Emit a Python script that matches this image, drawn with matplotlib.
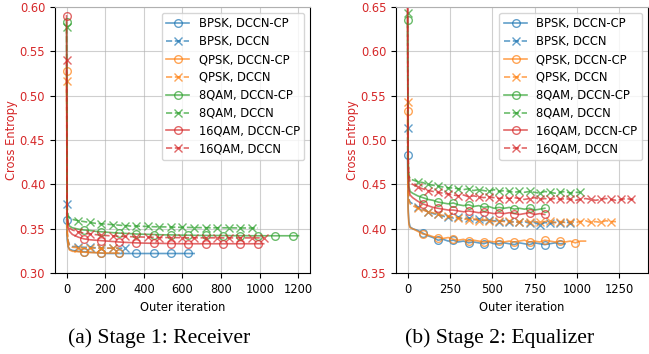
import matplotlib.pyplot as plt

plt.rcParams['font.family'] = ['DejaVu Sans']
plt.rcParams['font.size'] = 8.3

# ── Data ─────────────────────────────────────────
# first four samples at iterations 0, 3, 8, 15, then one sample every 30 iterations
early_iters = [0, 3, 8, 15]
step = 30

labels = ['BPSK, DCCN-CP', 'BPSK, DCCN', 'QPSK, DCCN-CP', 'QPSK, DCCN',
          '8QAM, DCCN-CP', '8QAM, DCCN', '16QAM, DCCN-CP', '16QAM, DCCN']
colors = ['tab:blue', 'tab:blue', 'tab:orange', 'tab:orange',
          'tab:green', 'tab:green', 'tab:red', 'tab:red']

# Stage 1: Receiver
rx_bpsk_cp = [0.360, 0.338, 0.330, 0.327,
              0.3255, 0.3245, 0.324, 0.3235, 0.323, 0.3225,
              0.322, 0.322, 0.322, 0.322, 0.322, 0.322, 0.322, 0.322,
              0.322, 0.322, 0.322, 0.322, 0.322, 0.322, 0.322, 0.322]
rx_bpsk = [0.378, 0.345, 0.336, 0.332,
           0.330, 0.3295, 0.329, 0.329, 0.3285, 0.3285, 0.328, 0.328, 0.328, 0.328]
rx_qpsk_cp = [0.528, 0.345, 0.330, 0.326,
              0.3245, 0.324, 0.3235, 0.323, 0.323, 0.3225, 0.3225, 0.3225, 0.3225]
rx_qpsk = [0.517, 0.350, 0.336, 0.331,
           0.329, 0.3285, 0.328, 0.328, 0.328, 0.328, 0.328, 0.328, 0.328]
rx_8qam_cp = [0.583, 0.368, 0.357, 0.353,
              0.351, 0.3495, 0.3485, 0.348, 0.347, 0.3465, 0.346, 0.3455, 0.345, 0.3447,
              0.3444, 0.344, 0.3438, 0.3436, 0.3434, 0.3432, 0.343, 0.343,
              0.3428, 0.3427, 0.3426, 0.3425, 0.3424, 0.3424, 0.3423, 0.3423,
              0.3422, 0.3422, 0.3421, 0.3421, 0.3421, 0.342,
              0.342, 0.342, 0.342, 0.342, 0.342, 0.342, 0.342, 0.342]
rx_8qam = [0.577, 0.375, 0.365, 0.362,
           0.3605, 0.359, 0.358, 0.357, 0.356, 0.3555, 0.355, 0.3545, 0.354, 0.3535,
           0.353, 0.353, 0.3527, 0.3525, 0.3522, 0.352, 0.352, 0.3518, 0.3516, 0.3515,
           0.3514, 0.3513, 0.3512, 0.3511, 0.351, 0.351, 0.351, 0.351, 0.3509, 0.3508,
           0.3508, 0.3507, 0.3507]
rx_16qam_cp = [0.590, 0.362, 0.352, 0.347,
               0.3435, 0.3405, 0.3385, 0.3375, 0.337, 0.3365, 0.336, 0.3355, 0.335, 0.3346,
               0.3343, 0.334, 0.3338, 0.3336, 0.3335, 0.3334, 0.3333, 0.3332, 0.3331, 0.333,
               0.333, 0.333, 0.333, 0.333, 0.333, 0.333, 0.333, 0.333, 0.333, 0.333,
               0.333, 0.333, 0.333, 0.333]
rx_16qam = [0.540, 0.365, 0.355, 0.351,
            0.3485, 0.3465, 0.345, 0.344, 0.3433, 0.3427, 0.3422, 0.3418, 0.3415, 0.3412,
            0.341, 0.3408, 0.3406, 0.3404, 0.3402, 0.340, 0.340, 0.340, 0.3399, 0.3398,
            0.3397, 0.3397, 0.3397, 0.3397, 0.3397, 0.3396, 0.3396, 0.3396, 0.3396, 0.3396,
            0.3396, 0.3396, 0.3396, 0.3396]

# Stage 2: Equalizer
eq_bpsk_cp = [0.483, 0.425, 0.408, 0.402,
              0.400, 0.398, 0.395, 0.392, 0.390, 0.387, 0.388, 0.386, 0.387, 0.385,
              0.386, 0.384, 0.385, 0.384, 0.383, 0.385, 0.383, 0.383, 0.384, 0.383,
              0.382, 0.384, 0.383, 0.382, 0.384, 0.383, 0.382, 0.383, 0.384, 0.383,
              0.383]
eq_bpsk = [0.513, 0.445, 0.433, 0.430,
           0.428, 0.424, 0.422, 0.419, 0.417, 0.416, 0.414, 0.413, 0.412, 0.413,
           0.411, 0.412, 0.410, 0.411, 0.409, 0.410, 0.409, 0.408, 0.409, 0.407,
           0.408, 0.407, 0.408, 0.406, 0.407, 0.404, 0.407, 0.406, 0.407, 0.406,
           0.408, 0.406, 0.405]
eq_qpsk_cp = [0.533, 0.420, 0.405, 0.401,
              0.400, 0.397, 0.394, 0.393, 0.391, 0.390, 0.389, 0.390, 0.388, 0.387,
              0.388, 0.386, 0.387, 0.386, 0.385, 0.386, 0.385, 0.386, 0.385, 0.386,
              0.385, 0.386, 0.387, 0.385, 0.386, 0.385, 0.387, 0.386, 0.385, 0.386,
              0.385, 0.386, 0.384, 0.386, 0.386]
eq_qpsk = [0.543, 0.450, 0.432, 0.428,
           0.426, 0.423, 0.421, 0.419, 0.418, 0.416, 0.415, 0.414, 0.413, 0.412,
           0.411, 0.410, 0.411, 0.409, 0.410, 0.409, 0.408, 0.409, 0.408, 0.409,
           0.407, 0.408, 0.409, 0.407, 0.408, 0.407, 0.408, 0.409, 0.407, 0.408,
           0.407, 0.408, 0.407, 0.408, 0.409, 0.407, 0.408, 0.407, 0.409, 0.408,
           0.408]
eq_8qam_cp = [0.635, 0.470, 0.448, 0.442,
              0.440, 0.437, 0.435, 0.433, 0.432, 0.430, 0.429, 0.428, 0.429, 0.427,
              0.426, 0.427, 0.425, 0.426, 0.424, 0.425, 0.423, 0.424, 0.423, 0.424,
              0.422, 0.423, 0.422, 0.423, 0.421, 0.422, 0.423]
eq_8qam = [0.643, 0.480, 0.460, 0.456,
           0.455, 0.453, 0.452, 0.450, 0.449, 0.448, 0.447, 0.446, 0.446, 0.445,
           0.444, 0.445, 0.443, 0.444, 0.443, 0.442, 0.444, 0.442, 0.443, 0.442,
           0.441, 0.442, 0.441, 0.442, 0.441, 0.440, 0.442, 0.441, 0.440, 0.441,
           0.442, 0.440, 0.441, 0.441]
eq_16qam_cp = [0.670, 0.470, 0.445, 0.438,
               0.435, 0.431, 0.428, 0.426, 0.424, 0.423, 0.422, 0.421, 0.421, 0.420,
               0.419, 0.420, 0.419, 0.418, 0.419, 0.418, 0.417, 0.418, 0.417, 0.418,
               0.417, 0.416, 0.417, 0.418, 0.416, 0.417, 0.416]
eq_16qam = [0.680, 0.490, 0.460, 0.452,
            0.450, 0.447, 0.445, 0.443, 0.442, 0.441, 0.440, 0.439, 0.438, 0.437,
            0.438, 0.436, 0.437, 0.436, 0.435, 0.436, 0.435, 0.434, 0.435, 0.434,
            0.435, 0.434, 0.433, 0.434, 0.435, 0.433, 0.434, 0.433, 0.434, 0.433,
            0.434, 0.433, 0.432, 0.433, 0.434, 0.433, 0.432, 0.433, 0.434, 0.433,
            0.432, 0.433, 0.434, 0.433, 0.433]

stage1 = [rx_bpsk_cp, rx_bpsk, rx_qpsk_cp, rx_qpsk, rx_8qam_cp, rx_8qam, rx_16qam_cp, rx_16qam]
stage2 = [eq_bpsk_cp, eq_bpsk, eq_qpsk_cp, eq_qpsk, eq_8qam_cp, eq_8qam, eq_16qam_cp, eq_16qam]


def iterations(values):
    return early_iters + [step * (i + 1) for i in range(len(values) - len(early_iters))]


def draw(ax, series, ylim, xticks):
    for k, values in enumerate(series):
        x = iterations(values)
        cp = k % 2 == 0
        every = 90 if cp else 60
        marks = [i for i, v in enumerate(x) if v % every == 0]
        ax.plot(x, values, color=colors[k], alpha=0.7, lw=1.2,
                ls='-' if cp else '--', marker='o' if cp else 'x',
                markersize=5.5, mew=1.0, fillstyle='none',
                markevery=marks, label=labels[k])
    ax.set_ylim(*ylim)
    ax.set_xticks(xticks)
    ax.grid(True, color='#b0b0b0', lw=0.8, alpha=0.6)
    ax.set_axisbelow(True)
    ax.set_xlabel('Outer iteration')
    ax.set_ylabel('Cross Entropy', color='tab:red', labelpad=1)
    ax.tick_params(axis='y', colors='tab:red')
    ax.tick_params(axis='y', color='black')
    ax.spines['top'].set_color('#b0b0b0')
    ax.legend(loc='upper right', fontsize=8.3, borderpad=0.4,
              labelspacing=0.42, handlelength=2.0)


fig = plt.figure(figsize=(6.49, 3.54), dpi=100)
ax1 = fig.add_axes([0.0847, 0.2288, 0.393, 0.7514])
ax2 = fig.add_axes([0.6102, 0.2288, 0.388, 0.7514])

draw(ax1, stage1, (0.30, 0.60), [0, 200, 400, 600, 800, 1000, 1200])
ax1.set_xlim(-60, 1260)
draw(ax2, stage2, (0.35, 0.65), [0, 250, 500, 750, 1000, 1250])
ax2.set_xlim(-68, 1418)

fig.text(0.245, 0.031, '(a) Stage 1: Receiver', family='Liberation Serif',
         fontsize=15.6, ha='center')
fig.text(0.769, 0.031, '(b) Stage 2: Equalizer', family='Liberation Serif',
         fontsize=15.6, ha='center')

plt.savefig('out.png', dpi=100)
print("saved out.png")
